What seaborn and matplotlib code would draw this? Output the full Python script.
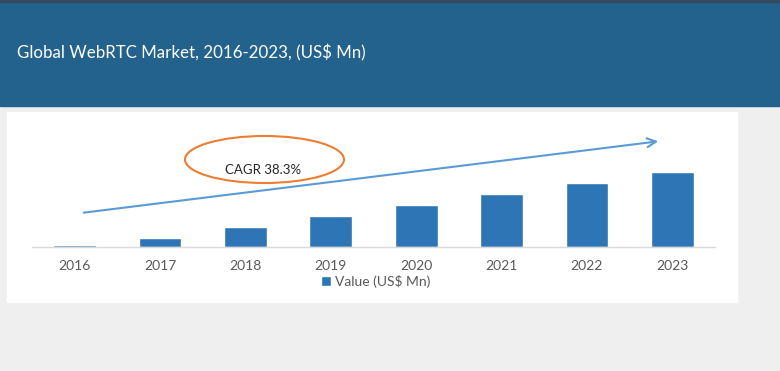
import matplotlib
matplotlib.use("Agg")
import matplotlib.pyplot as plt
from matplotlib.patches import Rectangle, Ellipse
import seaborn as sns
import pandas as pd

# data (US$ Mn)
years = ["2016", "2017", "2018", "2019", "2020", "2021", "2022", "2023"]
values = [14, 72, 163, 254, 344, 438, 532, 623]
series_label = "Value (US$ Mn)"
title = "Global WebRTC Market, 2016-2023, (US$ Mn)"
cagr_text = "CAGR 38.3%"

df = pd.DataFrame({"Year": years, "Value": values})

sns.set_theme(style="white")
plt.rcParams["font.family"] = ["Lato", "DejaVu Sans"]

W, H = 780, 371
fig = plt.figure(figsize=(W / 100, H / 100), dpi=100)
fig.patch.set_facecolor("#efefef")

# background layer in pixel coords
bg = fig.add_axes([0, 0, 1, 1])
bg.set_xlim(0, W)
bg.set_ylim(H, 0)
bg.axis("off")
bg.add_patch(Rectangle((0, 0), W, 106, color="#22628c", zorder=1))
bg.add_patch(Rectangle((0, 0), W, 2, color="#34495e", zorder=2))
bg.add_patch(Rectangle((7, 112), 730, 190, color="white", zorder=1))
bg.text(17, 53, title, color="white", fontsize=12.2, va="center", ha="left")

# bar chart
ax = fig.add_axes([32 / W, (H - 247) / H, 683 / W, 127 / H])
ax.set_facecolor("none")
sns.barplot(data=df, x="Year", y="Value", color="#2e75b6", width=0.5,
            saturation=1, label=series_label, ax=ax)
ax.set_ylim(0, 1050)
ax.set_xlim(-0.5, len(years) - 0.5)
ax.set_xlabel("")
ax.set_ylabel("")
ax.set_yticks([])
for s in ["top", "left", "right"]:
    ax.spines[s].set_visible(False)
ax.spines["bottom"].set_color("#d9d9d9")
ax.spines["bottom"].set_linewidth(1)
ax.tick_params(axis="x", length=0, pad=9, labelsize=10, labelcolor="#595959")

leg = ax.legend(loc="center", bbox_to_anchor=(376 / W, (H - 281) / H),
                bbox_transform=fig.transFigure, frameon=False, fontsize=10,
                handlelength=0.7, handleheight=0.7, handletextpad=0.3,
                borderpad=0, borderaxespad=0)
for t in leg.get_texts():
    t.set_color("#595959")

# overlay: growth arrow and CAGR ellipse
ov = fig.add_axes([0, 0, 1, 1])
ov.set_xlim(0, W)
ov.set_ylim(H, 0)
ov.axis("off")
ov.annotate("", xy=(661, 141), xytext=(81, 213),
            arrowprops=dict(arrowstyle="->", color="#5b9bd5", lw=1.5,
                            mutation_scale=16))
ov.add_patch(Ellipse((264.5, 159.5), 159, 47, fill=False,
                     edgecolor="#ed7d31", lw=1.5))
ov.text(263, 170, cagr_text, fontsize=9.5, color="#262626",
        ha="center", va="center")

fig.savefig("out.png", dpi=100)
plt.close(fig)
